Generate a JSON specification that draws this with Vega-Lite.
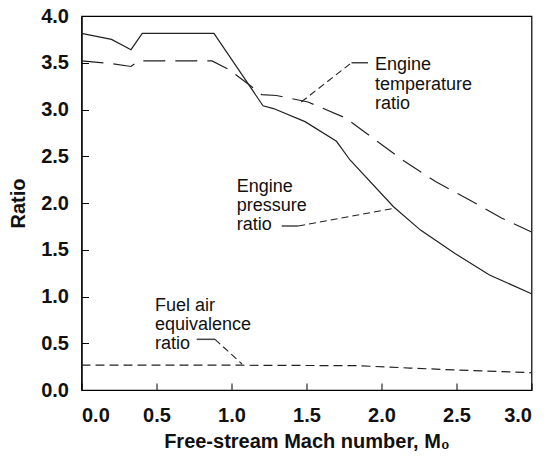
{
  "$schema": "https://vega.github.io/schema/vega-lite/v6.json",
  "width": 450,
  "height": 374,
  "autosize": {"type": "none"},
  "padding": {"left": 81.5, "top": 16, "right": 17.5, "bottom": 66},
  "background": "white",
  "config": {
    "view": {"stroke": "black", "strokeWidth": 1.2},
    "font": "Liberation Sans",
    "axis": {
      "domainColor": "black",
      "domainWidth": 1.2,
      "tickColor": "black",
      "grid": false,
      "labelFont": "Liberation Sans",
      "labelFontSize": 20,
      "labelFontWeight": "bold",
      "labelColor": "#111",
      "titleFont": "Liberation Sans",
      "titleFontSize": 20,
      "titleFontWeight": "bold",
      "titleColor": "#111"
    }
  },
  "datasets": {
    "curves": [
      {"series": "pressure", "x": 0.0, "y": 3.815},
      {"series": "pressure", "x": 0.2, "y": 3.75},
      {"series": "pressure", "x": 0.33, "y": 3.64},
      {"series": "pressure", "x": 0.405, "y": 3.815},
      {"series": "pressure", "x": 0.883, "y": 3.815},
      {"series": "pressure", "x": 1.21, "y": 3.04},
      {"series": "pressure", "x": 1.28, "y": 3.01},
      {"series": "pressure", "x": 1.49, "y": 2.87},
      {"series": "pressure", "x": 1.7, "y": 2.66},
      {"series": "pressure", "x": 1.79, "y": 2.46},
      {"series": "pressure", "x": 2.08, "y": 1.96},
      {"series": "pressure", "x": 2.26, "y": 1.71},
      {"series": "pressure", "x": 2.49, "y": 1.46},
      {"series": "pressure", "x": 2.72, "y": 1.23},
      {"series": "pressure", "x": 3.0, "y": 1.03},
      {"series": "temperature", "x": 0.0, "y": 3.52},
      {"series": "temperature", "x": 0.2, "y": 3.49},
      {"series": "temperature", "x": 0.33, "y": 3.46},
      {"series": "temperature", "x": 0.38, "y": 3.52},
      {"series": "temperature", "x": 0.87, "y": 3.52},
      {"series": "temperature", "x": 0.98, "y": 3.43},
      {"series": "temperature", "x": 1.17, "y": 3.2},
      {"series": "temperature", "x": 1.2, "y": 3.16},
      {"series": "temperature", "x": 1.3, "y": 3.15},
      {"series": "temperature", "x": 1.51, "y": 3.08},
      {"series": "temperature", "x": 1.76, "y": 2.91},
      {"series": "temperature", "x": 2.14, "y": 2.46},
      {"series": "temperature", "x": 2.36, "y": 2.23},
      {"series": "temperature", "x": 2.59, "y": 2.03},
      {"series": "temperature", "x": 2.8, "y": 1.84},
      {"series": "temperature", "x": 3.0, "y": 1.69},
      {"series": "fuel", "x": 0.0, "y": 0.265},
      {"series": "fuel", "x": 1.07, "y": 0.265},
      {"series": "fuel", "x": 1.84, "y": 0.26},
      {"series": "fuel", "x": 2.19, "y": 0.235},
      {"series": "fuel", "x": 2.49, "y": 0.214},
      {"series": "fuel", "x": 3.0, "y": 0.185}
    ],
    "leaders": [
      {"group": "t", "part": "solid", "x": 1.91, "y": 3.5},
      {"group": "t", "part": "solid", "x": 1.8, "y": 3.5},
      {"group": "t", "part": "dash", "x": 1.8, "y": 3.5},
      {"group": "t", "part": "dash", "x": 1.465, "y": 3.08},
      {"group": "p", "part": "solid", "x": 1.335, "y": 1.754},
      {"group": "p", "part": "solid", "x": 1.445, "y": 1.754},
      {"group": "p", "part": "dash", "x": 1.445, "y": 1.754},
      {"group": "p", "part": "dash", "x": 2.08, "y": 1.943},
      {"group": "f", "part": "solid", "x": 0.768, "y": 0.542},
      {"group": "f", "part": "solid", "x": 0.89, "y": 0.542},
      {"group": "f", "part": "dash", "x": 0.89, "y": 0.542},
      {"group": "f", "part": "dash", "x": 1.07, "y": 0.278}
    ],
    "labels": [
      {"x": 1.957, "y": 3.422, "text": "Engine"},
      {"x": 1.957, "y": 3.209, "text": "temperature"},
      {"x": 1.957, "y": 3.005, "text": "ratio"},
      {"x": 1.035, "y": 2.121, "text": "Engine"},
      {"x": 1.035, "y": 1.918, "text": "pressure"},
      {"x": 1.035, "y": 1.711, "text": "ratio"},
      {"x": 0.49, "y": 0.845, "text": "Fuel air"},
      {"x": 0.49, "y": 0.642, "text": "equivalence"},
      {"x": 0.49, "y": 0.44, "text": "ratio"}
    ]
  },
  "encoding": {
    "x": {
      "field": "x", "type": "quantitative",
      "scale": {"domain": [0, 3], "nice": false, "zero": false},
      "axis": {"values": [0, 0.5, 1, 1.5, 2, 2.5, 3], "format": ".1f", "tickSize": -7, "labelPadding": 22, "title": "Free-stream Mach number, M₀", "titlePadding": 6}
    },
    "y": {
      "field": "y", "type": "quantitative",
      "scale": {"domain": [0, 4], "nice": false},
      "axis": {"values": [0, 0.5, 1, 1.5, 2, 2.5, 3, 3.5, 4], "format": ".1f", "tickSize": -7, "labelPadding": 20, "title": "Ratio", "titlePadding": 12}
    }
  },
  "layer": [
    {
      "data": {"name": "curves"},
      "transform": [{"filter": "datum.series === 'pressure'"}],
      "mark": {"type": "line", "color": "#222", "strokeWidth": 1.2}
    },
    {
      "data": {"name": "curves"},
      "transform": [{"filter": "datum.series === 'temperature'"}],
      "mark": {"type": "line", "color": "#222", "strokeWidth": 1.2, "strokeDash": [22, 10]}
    },
    {
      "data": {"name": "curves"},
      "transform": [{"filter": "datum.series === 'fuel'"}],
      "mark": {"type": "line", "color": "#222", "strokeWidth": 1.2, "strokeDash": [9, 5]}
    },
    {
      "data": {"name": "leaders"},
      "transform": [{"filter": "datum.part === 'solid'"}],
      "mark": {"type": "line", "color": "#444", "strokeWidth": 1.5},
      "encoding": {"detail": {"field": "group"}}
    },
    {
      "data": {"name": "leaders"},
      "transform": [{"filter": "datum.part === 'dash'"}],
      "mark": {"type": "line", "color": "#222", "strokeWidth": 1.1, "strokeDash": [7, 4]},
      "encoding": {"detail": {"field": "group"}}
    },
    {
      "data": {"name": "labels"},
      "mark": {"type": "text", "align": "left", "baseline": "alphabetic", "fontSize": 18, "font": "Liberation Sans", "color": "#111"},
      "encoding": {"text": {"field": "text"}}
    }
  ]
}
